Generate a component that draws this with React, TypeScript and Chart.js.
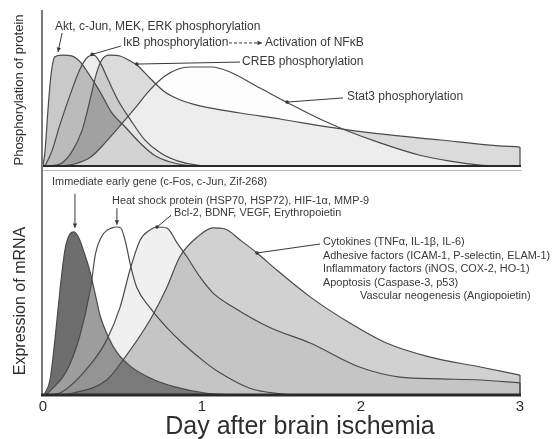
import React, { useEffect, useRef } from 'react';
import { Chart, registerables } from 'chart.js';
Chart.register(...registerables);

// ---------- Top panel: phosphorylation of protein (relative level, 0-100) ----------
const aktDays = [0, 0.013, 0.031, 0.05, 0.075, 0.12, 0.18, 0.23, 0.28, 0.36, 0.43, 0.52, 0.61, 0.70, 0.80, 0.92, 1.02];
const aktLevels = [0, 10, 36, 59, 71, 72, 71.5, 68, 61, 48, 35, 25, 15, 7, 2.6, 0.3, 0];

const ikbDays = [0.013, 0.057, 0.107, 0.17, 0.233, 0.283, 0.32, 0.36, 0.41, 0.47, 0.55, 0.64, 0.74, 0.85, 0.99, 1.08];
const ikbLevels = [0, 10, 27, 46, 63, 71, 72, 67, 56, 43, 30, 17, 8.4, 3.2, 0.3, 0];

const crebDays = [0.03, 0.107, 0.18, 0.245, 0.296, 0.333, 0.37, 0.42, 0.484, 0.535, 0.59, 0.673, 0.767, 0.86, 0.987, 1.24, 1.49, 1.8, 2.12, 2.5, 2.81, 3.0];
const crebLevels = [0, 1.3, 9, 23, 43, 59, 69, 72, 71.4, 69, 65.6, 57, 48, 43, 39, 34.4, 30.5, 25.3, 20.8, 16.9, 13.6, 12.3];

const stat3Days = [0.107, 0.2, 0.3, 0.39, 0.484, 0.58, 0.673, 0.767, 0.85, 0.925, 1.063, 1.176, 1.365, 1.553, 1.742, 1.9, 2.12, 2.37, 2.56, 2.75, 2.87];
const stat3Levels = [0, 1.3, 5.8, 15, 26, 37.7, 49.4, 58.4, 63, 64.3, 64.3, 61, 50.6, 40.3, 30.5, 23.4, 15, 7, 3.2, 0.6, 0];

// ---------- Bottom panel: expression of mRNA (relative level, 0-100) ----------
const iegDays = [0.006, 0.044, 0.075, 0.107, 0.138, 0.17, 0.195, 0.226, 0.264, 0.296, 0.327, 0.358, 0.41, 0.465, 0.547, 0.673, 0.83, 1.02, 1.24];
const iegLevels = [0, 6.7, 24.6, 46.9, 64.7, 71.9, 72.8, 70, 62.5, 55, 45.5, 35.7, 26, 19, 13, 7.6, 3.6, 0.9, 0];

const hspDays = [0.02, 0.15, 0.23, 0.30, 0.33, 0.38, 0.43, 0.465, 0.49, 0.52, 0.55, 0.59, 0.673, 0.78, 0.88, 1.03, 1.11, 1.3, 1.49, 1.62];
const hspLevels = [0, 11, 26, 48, 63, 72, 74.5, 75, 74.5, 68, 58, 48, 39, 30, 23, 14, 10, 3, 0.5, 0];

const bclDays = [0.025, 0.107, 0.296, 0.4, 0.484, 0.547, 0.61, 0.673, 0.717, 0.78, 0.843, 0.906, 0.987, 1.07, 1.195, 1.43, 1.68, 1.99, 2.245, 2.5, 2.75, 3.0];
const bclLevels = [0, 0.9, 13.4, 24.5, 39, 55.8, 69, 73.7, 75, 74.5, 67.9, 61.6, 52.7, 45.5, 39.3, 30, 23.2, 12.5, 8, 7.2, 6.7, 5.4];

const cytDays = [0.075, 0.19, 0.4, 0.503, 0.673, 0.78, 0.86, 0.97, 1.07, 1.145, 1.24, 1.346, 1.47, 1.68, 1.93, 2.16, 2.43, 2.75, 3.0];
const cytLevels = [0, 0.9, 6.7, 15.6, 33.5, 48.2, 61.6, 70.5, 74.6, 74.1, 69.2, 63.4, 55.8, 43.8, 32.1, 23.2, 17, 12.5, 8.9];

// ---------- Axis texts ----------
const xTickValues = [0, 1, 2, 3];
const xTickLabels = ['0', '1', '2', '3'];
const xTitle = 'Day after brain ischemia';
const topYTitle = 'Phosphorylation of protein';
const bottomYTitle = 'Expression of mRNA';

// ---------- Annotations (positions in data units: day, level) ----------
const topLabels = [
  { text: 'Akt, c-Jun, MEK, ERK phosphorylation', day: 0.075, level: 90.3 },
  { text: 'IκB phosphorylation', day: 0.503, level: 79.9 },
  { text: 'Activation of NFκB', day: 1.396, level: 79.9 },
  { text: 'CREB phosphorylation', day: 1.252, level: 67.5 },
  { text: 'Stat3 phosphorylation', day: 1.912, level: 44.8 },
];
const topLeaders = [
  { from: [0.12, 86.4], to: [0.094, 74], end: 'arrow' },
  { from: [0.49, 77.9], to: [0.31, 72.5], end: 'dot' },
  { from: [1.17, 79.9], to: [1.377, 79.9], end: 'arrow', dashed: true },
  { from: [1.239, 67.5], to: [0.59, 66.2], end: 'dot' },
  { from: [1.887, 44.2], to: [1.535, 41.5], end: 'dot' },
];
const bottomLabels = [
  { text: 'Immediate early gene (c-Fos, c-Jun, Zif-268)', day: 0.057, level: 94.8 },
  { text: 'Heat shock protein (HSP70, HSP72), HIF-1α, MMP-9', day: 0.434, level: 86.4 },
  { text: 'Bcl-2, BDNF, VEGF, Erythropoietin', day: 0.824, level: 81.0 },
  { text: 'Cytokines (TNFα, IL-1β, IL-6)', day: 1.761, level: 68.3 },
  { text: 'Adhesive factors (ICAM-1, P-selectin, ELAM-1)', day: 1.761, level: 62.1 },
  { text: 'Inflammatory factors (iNOS, COX-2, HO-1)', day: 1.761, level: 56.25 },
  { text: 'Apoptosis (Caspase-3, p53)', day: 1.761, level: 50 },
  { text: 'Vascular neogenesis (Angiopoietin)', day: 1.994, level: 44.2 },
];
const bottomLeaders = [
  { from: [0.201, 89.9], to: [0.201, 74.6], end: 'arrow' },
  { from: [0.465, 83.4], to: [0.465, 76], end: 'arrow' },
  { from: [0.805, 80.2], to: [0.717, 75], end: 'dot' },
  { from: [1.742, 67.4], to: [1.346, 63.4], end: 'dot' },
];

const FONT = "'Liberation Sans', Arial, Helvetica, sans-serif";
const INK = '#383838';
const LINE = '#4a4a4a';

const pts = (xs: number[], ys: number[]) => xs.map((x, i) => ({ x, y: ys[i] }));

function series(label: string, xs: number[], ys: number[], bg: string) {
  return {
    label,
    data: pts(xs, ys),
    borderColor: LINE,
    borderWidth: 1.2,
    backgroundColor: bg,
    fill: 'origin',
    pointRadius: 0,
    cubicInterpolationMode: 'monotone',
  };
}

function drawLeader(ctx: CanvasRenderingContext2D, X: any, Y: any, l: any) {
  const x1 = X(l.from[0]), y1 = Y(l.from[1]);
  const x2 = X(l.to[0]), y2 = Y(l.to[1]);
  ctx.save();
  ctx.strokeStyle = INK;
  ctx.fillStyle = INK;
  ctx.lineWidth = 1;
  if (l.dashed) ctx.setLineDash([3, 2]);
  ctx.beginPath();
  ctx.moveTo(x1, y1);
  ctx.lineTo(x2, y2);
  ctx.stroke();
  ctx.setLineDash([]);
  if (l.end === 'arrow') {
    const a = Math.atan2(y2 - y1, x2 - x1);
    const s = 5;
    ctx.beginPath();
    ctx.moveTo(x2, y2);
    ctx.lineTo(x2 - s * Math.cos(a - 0.45), y2 - s * Math.sin(a - 0.45));
    ctx.lineTo(x2 - s * Math.cos(a + 0.45), y2 - s * Math.sin(a + 0.45));
    ctx.closePath();
    ctx.fill();
  } else if (l.end === 'dot') {
    ctx.beginPath();
    ctx.arc(x2, y2, 1.8, 0, Math.PI * 2);
    ctx.fill();
  }
  ctx.restore();
}

function decorPlugin(opts: any) {
  return {
    id: 'decor',
    afterDatasetsDraw(chart: any) {
      const ctx: CanvasRenderingContext2D = chart.ctx;
      const xs = chart.scales.x, ys = chart.scales.y;
      const X = (d: number) => xs.getPixelForValue(d);
      const Y = (v: number) => ys.getPixelForValue(v);
      const area = chart.chartArea;

      // close the right edge of series that are still above zero at day 3
      chart.data.datasets.forEach((ds: any, i: number) => {
        const meta = chart.getDatasetMeta(i);
        const last = meta.data[meta.data.length - 1];
        if (last && ds.data[ds.data.length - 1].y > 0.5) {
          ctx.save();
          ctx.strokeStyle = LINE;
          ctx.lineWidth = 1.2;
          ctx.beginPath();
          ctx.moveTo(last.x, last.y);
          ctx.lineTo(last.x, Y(0));
          ctx.stroke();
          ctx.restore();
        }
      });

      // axes
      ctx.save();
      ctx.strokeStyle = '#7a7a7a';
      ctx.lineWidth = 2;
      ctx.beginPath();
      ctx.moveTo(area.left - 1, opts.axisTop);
      ctx.lineTo(area.left - 1, area.bottom + 1);
      ctx.stroke();
      ctx.strokeStyle = '#2a2a2a';
      ctx.lineWidth = opts.baseWidth;
      ctx.beginPath();
      ctx.moveTo(area.left - 2, area.bottom);
      ctx.lineTo(area.right + 1, area.bottom);
      ctx.stroke();
      if (opts.sepY) {
        ctx.strokeStyle = '#bdbdbd';
        ctx.lineWidth = 1;
        ctx.beginPath();
        ctx.moveTo(area.left - 1, opts.sepY);
        ctx.lineTo(area.right + 2, opts.sepY);
        ctx.stroke();
      }
      ctx.restore();

      // labels
      opts.labels.forEach((t: any) => {
        ctx.save();
        ctx.fillStyle = INK;
        ctx.textBaseline = 'middle';
        ctx.textAlign = 'left';
        ctx.font = `${opts.labelSize}px ${FONT}`;
        ctx.translate(X(t.day), Y(t.level));
        ctx.scale(opts.labelStretch, 1);
        ctx.fillText(t.text, 0, 0);
        ctx.restore();
      });
      opts.leaders.forEach((l: any) => drawLeader(ctx, X, Y, l));

      // y title
      ctx.save();
      ctx.fillStyle = '#2e2e2e';
      ctx.font = `${opts.yTitleSize}px ${FONT}`;
      ctx.textAlign = 'center';
      ctx.textBaseline = 'middle';
      ctx.translate(opts.yTitleX, opts.yTitleY);
      ctx.rotate(-Math.PI / 2);
      ctx.fillText(opts.yTitle, 0, 0);
      ctx.restore();

      // x ticks and title
      if (opts.showX) {
        ctx.save();
        ctx.fillStyle = '#2e2e2e';
        ctx.textAlign = 'center';
        ctx.textBaseline = 'middle';
        ctx.font = `15px ${FONT}`;
        xTickValues.forEach((v, i) => ctx.fillText(xTickLabels[i], X(v), area.bottom + 12));
        ctx.font = `25px ${FONT}`;
        ctx.fillText(xTitle, opts.xTitleX, area.bottom + 32);
        ctx.restore();
      }
    },
  };
}

function makeConfig(datasets: any[], padding: any, decor: any) {
  return {
    type: 'line',
    data: { datasets },
    options: {
      responsive: false,
      animation: false,
      devicePixelRatio: 1,
      layout: { padding },
      scales: {
        x: { type: 'linear', min: 0, max: 3, display: false },
        y: { type: 'linear', min: 0, max: 100, display: false },
      },
      plugins: {
        legend: { display: false },
        tooltip: { enabled: false },
        filler: { drawTime: 'beforeDatasetsDraw' },
      },
    },
    plugins: [decorPlugin(decor)],
  };
}

export default function App() {
  const topRef = useRef<HTMLCanvasElement>(null);
  const botRef = useRef<HTMLCanvasElement>(null);

  useEffect(() => {
    const topDatasets = [
      series('Stat3 phosphorylation', stat3Days, stat3Levels, 'rgba(252,252,252,0.55)'),
      series('CREB phosphorylation', crebDays, crebLevels, 'rgba(0,0,0,0.14)'),
      series('IκB phosphorylation', ikbDays, ikbLevels, 'rgba(0,0,0,0.07)'),
      series('Akt, c-Jun, MEK, ERK phosphorylation', aktDays, aktLevels, 'rgba(0,0,0,0.21)'),
    ];
    const botDatasets = [
      series('Cytokines etc.', cytDays, cytLevels, 'rgba(0,0,0,0.18)'),
      series('Bcl-2, BDNF, VEGF, Erythropoietin', bclDays, bclLevels, 'rgba(0,0,0,0.06)'),
      series('Heat shock protein', hspDays, hspLevels, 'rgba(255,255,255,0.32)'),
      series('Immediate early gene', iegDays, iegLevels, 'rgba(0,0,0,0.57)'),
    ];
    const c1 = new Chart(topRef.current as HTMLCanvasElement, makeConfig(topDatasets,
      { left: 43, right: 38, top: 12, bottom: 6 },
      {
        labels: topLabels, leaders: topLeaders, labelSize: 12, labelStretch: 1,
        axisTop: 10, baseWidth: 2, sepY: 170.5,
        yTitle: topYTitle, yTitleSize: 13, yTitleX: 19, yTitleY: 90, showX: false,
      }) as any);
    const c2 = new Chart(botRef.current as HTMLCanvasElement, makeConfig(botDatasets,
      { left: 43, right: 38, top: 11, bottom: 44 },
      {
        labels: bottomLabels, leaders: bottomLeaders, labelSize: 10, labelStretch: 1.09,
        axisTop: 0, baseWidth: 3, sepY: 0,
        yTitle: bottomYTitle, yTitleSize: 16, yTitleX: 21, yTitleY: 141, showX: true, xTitleX: 300,
      }) as any);
    return () => { c1.destroy(); c2.destroy(); };
  }, []);

  return (
    <div style={{ position: 'fixed', left: 0, top: 0, width: 558, height: 439, background: '#fff' }}>
      <canvas ref={topRef} width={558} height={172}
        style={{ position: 'absolute', left: 0, top: 0, width: 558, height: 172 }} />
      <canvas ref={botRef} width={558} height={279}
        style={{ position: 'absolute', left: 0, top: 160, width: 558, height: 279 }} />
    </div>
  );
}
